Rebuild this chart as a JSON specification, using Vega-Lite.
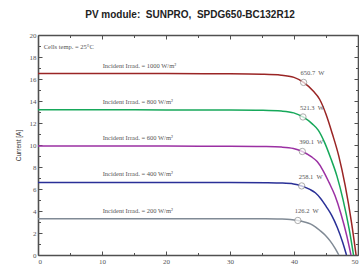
{
  "$schema": "https://vega.github.io/schema/vega-lite/v6.json",
  "width": 320,
  "height": 220,
  "autosize": "none",
  "padding": {"left": 38, "top": 35, "right": 1, "bottom": 13},
  "background": "white",
  "title": {"text": "PV module:\u00a0 SUNPRO,\u00a0 SPDG650-BC132R12", "font": "Liberation Sans", "fontSize": 10, "fontWeight": "bold", "color": "#222", "offset": 11, "dx": -8},
  "config": {
    "view": {"stroke": null},
    "axis": {"domainColor": "#505050", "domainWidth": 1.6, "tickColor": "#505050", "tickWidth": 1, "labelFont": "Liberation Serif", "labelFontSize": 7, "labelColor": "#555", "grid": false, "titleFont": "Liberation Sans", "titleFontSize": 6.5, "titleFontWeight": "normal", "titleColor": "#333"}
  },
  "datasets": {
    "curves": [
      {"s": "1000", "V": 0, "I": 16.5}, {"s": "1000", "V": 10, "I": 16.5}, {"s": "1000", "V": 20, "I": 16.49}, {"s": "1000", "V": 30, "I": 16.47},
      {"s": "1000", "V": 35, "I": 16.43}, {"s": "1000", "V": 38, "I": 16.35}, {"s": "1000", "V": 40, "I": 16.15}, {"s": "1000", "V": 41.5, "I": 15.69},
      {"s": "1000", "V": 43, "I": 14.9}, {"s": "1000", "V": 44, "I": 14.16}, {"s": "1000", "V": 45, "I": 12.8}, {"s": "1000", "V": 46, "I": 11.0},
      {"s": "1000", "V": 47, "I": 8.99}, {"s": "1000", "V": 48, "I": 6.3}, {"s": "1000", "V": 49, "I": 2.9}, {"s": "1000", "V": 49.7, "I": 0},
      {"s": "800", "V": 0, "I": 13.2}, {"s": "800", "V": 10, "I": 13.2}, {"s": "800", "V": 20, "I": 13.19}, {"s": "800", "V": 30, "I": 13.18},
      {"s": "800", "V": 35.14, "I": 13.15}, {"s": "800", "V": 38.03, "I": 13.08}, {"s": "800", "V": 39.96, "I": 12.92}, {"s": "800", "V": 41.4, "I": 12.55},
      {"s": "800", "V": 42.85, "I": 11.92}, {"s": "800", "V": 43.81, "I": 11.33}, {"s": "800", "V": 44.77, "I": 10.24}, {"s": "800", "V": 45.74, "I": 8.8},
      {"s": "800", "V": 46.7, "I": 7.19}, {"s": "800", "V": 47.66, "I": 5.04}, {"s": "800", "V": 48.63, "I": 2.32}, {"s": "800", "V": 49.3, "I": 0},
      {"s": "600", "V": 0, "I": 9.9}, {"s": "600", "V": 10, "I": 9.9}, {"s": "600", "V": 20, "I": 9.9}, {"s": "600", "V": 30, "I": 9.89},
      {"s": "600", "V": 35.27, "I": 9.86}, {"s": "600", "V": 38.05, "I": 9.81}, {"s": "600", "V": 39.91, "I": 9.69}, {"s": "600", "V": 41.3, "I": 9.41},
      {"s": "600", "V": 42.69, "I": 8.94}, {"s": "600", "V": 43.62, "I": 8.49}, {"s": "600", "V": 44.54, "I": 7.68}, {"s": "600", "V": 45.47, "I": 6.6},
      {"s": "600", "V": 46.4, "I": 5.4}, {"s": "600", "V": 47.32, "I": 3.78}, {"s": "600", "V": 48.25, "I": 1.74}, {"s": "600", "V": 48.9, "I": 0},
      {"s": "400", "V": 0, "I": 6.6}, {"s": "400", "V": 10, "I": 6.6}, {"s": "400", "V": 20, "I": 6.6}, {"s": "400", "V": 30, "I": 6.59},
      {"s": "400", "V": 35.65, "I": 6.57}, {"s": "400", "V": 38.21, "I": 6.54}, {"s": "400", "V": 39.92, "I": 6.46}, {"s": "400", "V": 41.2, "I": 6.28},
      {"s": "400", "V": 42.48, "I": 5.96}, {"s": "400", "V": 43.33, "I": 5.66}, {"s": "400", "V": 44.19, "I": 5.12}, {"s": "400", "V": 45.04, "I": 4.4},
      {"s": "400", "V": 45.89, "I": 3.6}, {"s": "400", "V": 46.75, "I": 2.52}, {"s": "400", "V": 47.6, "I": 1.16}, {"s": "400", "V": 48.2, "I": 0},
      {"s": "200", "V": 0, "I": 3.3}, {"s": "200", "V": 10, "I": 3.3}, {"s": "200", "V": 20, "I": 3.3}, {"s": "200", "V": 30, "I": 3.3},
      {"s": "200", "V": 35.53, "I": 3.29}, {"s": "200", "V": 37.87, "I": 3.27}, {"s": "200", "V": 39.43, "I": 3.23}, {"s": "200", "V": 40.6, "I": 3.14},
      {"s": "200", "V": 41.77, "I": 2.98}, {"s": "200", "V": 42.55, "I": 2.83}, {"s": "200", "V": 43.33, "I": 2.56}, {"s": "200", "V": 44.11, "I": 2.2},
      {"s": "200", "V": 44.89, "I": 1.8}, {"s": "200", "V": 45.67, "I": 1.26}, {"s": "200", "V": 46.45, "I": 0.58}, {"s": "200", "V": 47.0, "I": 0}
    ],
    "mpp": [
      {"s": "1000", "V": 41.5, "I": 15.69, "label": "650.7\u00a0 W"},
      {"s": "800", "V": 41.4, "I": 12.55, "label": "521.3\u00a0 W"},
      {"s": "600", "V": 41.3, "I": 9.41, "label": "390.1\u00a0 W"},
      {"s": "400", "V": 41.2, "I": 6.28, "label": "258.1\u00a0 W"},
      {"s": "200", "V": 40.6, "I": 3.14, "label": "126.2\u00a0 W"}
    ],
    "irr": [
      {"s": "1000", "V": 10.1, "I": 16.5, "label": "Incident Irrad. = 1000 W/m²"},
      {"s": "800", "V": 10.1, "I": 13.2, "label": "Incident Irrad. = 800 W/m²"},
      {"s": "600", "V": 10.1, "I": 9.9, "label": "Incident Irrad. = 600 W/m²"},
      {"s": "400", "V": 10.1, "I": 6.6, "label": "Incident Irrad. = 400 W/m²"},
      {"s": "200", "V": 10.1, "I": 3.3, "label": "Incident Irrad. = 200 W/m²"}
    ],
    "note": [{"V": 0.9, "I": 18.9, "label": "Cells temp. = 25°C"}]
  },
  "layer": [
    {
      "data": {"name": "curves"},
      "mark": {"type": "line", "strokeWidth": 1.5, "interpolate": "monotone"},
      "encoding": {
        "x": {"field": "V", "type": "quantitative", "scale": {"domain": [0, 50], "nice": false}, "axis": {"orient": "bottom", "values": [0, 10, 20, 30, 40, 50], "tickSize": -4, "labelPadding": 6, "title": "Voltage [V]", "titlePadding": 4}},
        "y": {"field": "I", "type": "quantitative", "scale": {"domain": [0, 20], "nice": false}, "axis": {"orient": "left", "values": [0, 2, 4, 6, 8, 10, 12, 14, 16, 18, 20], "tickSize": -4, "labelPadding": 6, "title": "Current [A]", "titlePadding": 8}},
        "color": {"field": "s", "type": "nominal", "scale": {"domain": ["1000", "800", "600", "400", "200"], "range": ["#9a2525", "#16a85a", "#9b30a3", "#2a3097", "#808a95"]}, "legend": null},
        "detail": {"field": "s"}
      }
    },
    {
      "data": {"name": "mpp"},
      "mark": {"type": "point", "shape": "circle", "filled": true, "fill": "white", "stroke": "#8a8a8a", "strokeWidth": 1, "size": 40},
      "encoding": {
        "x": {"field": "V", "type": "quantitative", "axis": {"orient": "top", "values": [0, 10, 20, 30, 40, 50], "tickSize": -4, "labels": false, "title": null}},
        "y": {"field": "I", "type": "quantitative", "axis": {"orient": "right", "values": [0, 2, 4, 6, 8, 10, 12, 14, 16, 18, 20], "tickSize": -4, "labels": false, "title": null}}
      }
    },
    {
      "data": {"name": "mpp"},
      "mark": {"type": "text", "align": "left", "baseline": "middle", "dx": -3, "dy": -9, "font": "Liberation Serif", "fontSize": 6.5, "color": "#555"},
      "encoding": {
        "x": {"field": "V", "type": "quantitative", "axis": {"orient": "bottom", "values": [5, 15, 25, 35, 45], "tickSize": -2.5, "labels": false, "domain": false, "title": null}},
        "y": {"field": "I", "type": "quantitative", "axis": {"orient": "left", "values": [1, 3, 5, 7, 9, 11, 13, 15, 17, 19], "tickSize": -2.5, "labels": false, "domain": false, "title": null}},
        "text": {"field": "label"}
      }
    },
    {
      "data": {"name": "irr"},
      "mark": {"type": "text", "align": "left", "baseline": "middle", "dy": -8, "font": "Liberation Serif", "fontSize": 6.5, "color": "#555"},
      "encoding": {
        "x": {"field": "V", "type": "quantitative", "axis": {"orient": "top", "values": [5, 15, 25, 35, 45], "tickSize": -2.5, "labels": false, "domain": false, "title": null}},
        "y": {"field": "I", "type": "quantitative", "axis": {"orient": "right", "values": [1, 3, 5, 7, 9, 11, 13, 15, 17, 19], "tickSize": -2.5, "labels": false, "domain": false, "title": null}},
        "text": {"field": "label"}
      }
    },
    {
      "data": {"name": "note"},
      "mark": {"type": "text", "align": "left", "baseline": "middle", "font": "Liberation Serif", "fontSize": 6.5, "color": "#555"},
      "encoding": {
        "x": {"field": "V", "type": "quantitative", "axis": null},
        "y": {"field": "I", "type": "quantitative", "axis": null},
        "text": {"field": "label"}
      }
    }
  ],
  "resolve": {"axis": {"x": "independent", "y": "independent"}}
}
